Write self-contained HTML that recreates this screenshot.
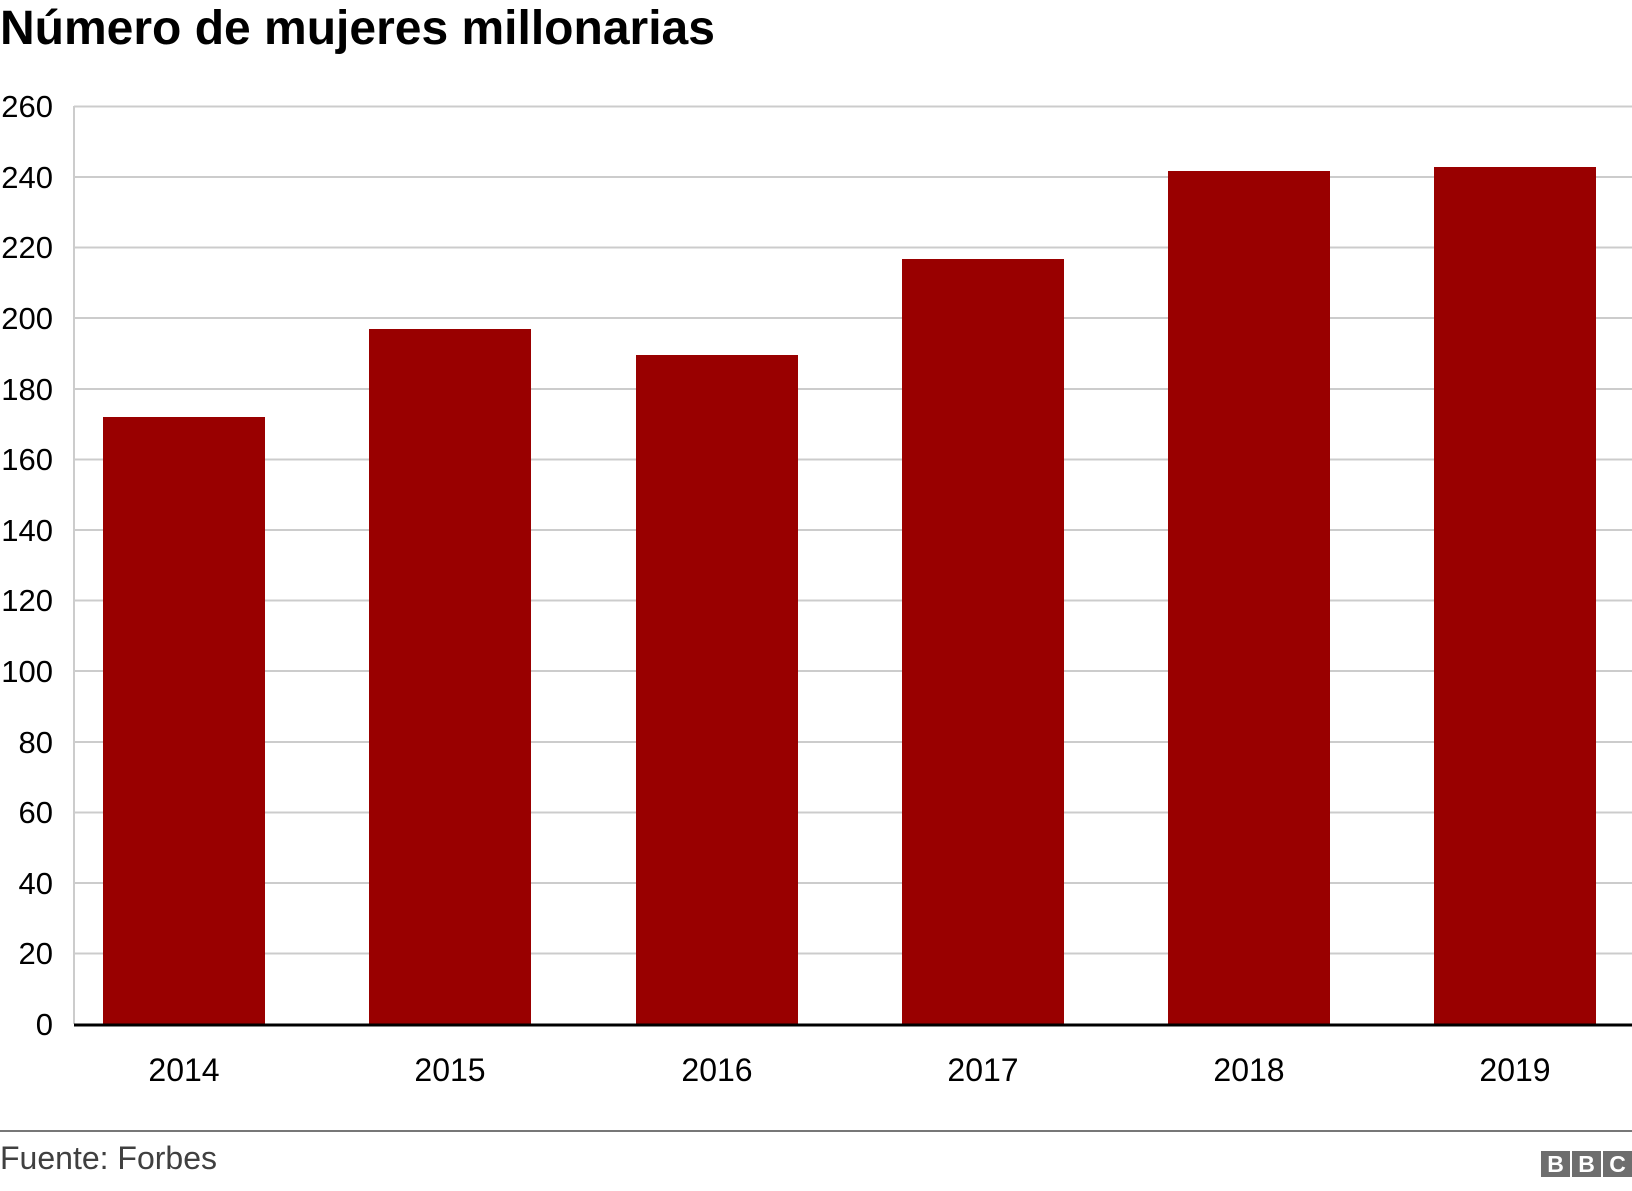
<!DOCTYPE html>
<html><head><meta charset="utf-8"><style>
html,body{margin:0;padding:0;background:#fff;}
body{width:1632px;height:1186px;overflow:hidden;}
</style></head><body>
<svg width="1632" height="1186" xmlns="http://www.w3.org/2000/svg" font-family="Liberation Sans, Arial, sans-serif">
<text x="0" y="44" font-size="48" font-weight="bold" fill="#000">Número de mujeres millonarias</text>
<g stroke="#cccccc" stroke-width="2">
<line x1="74" y1="106.5" x2="1632" y2="106.5"/>
<line x1="74" y1="177" x2="1632" y2="177"/>
<line x1="74" y1="247.5" x2="1632" y2="247.5"/>
<line x1="74" y1="318" x2="1632" y2="318"/>
<line x1="74" y1="389" x2="1632" y2="389"/>
<line x1="74" y1="459.5" x2="1632" y2="459.5"/>
<line x1="74" y1="530" x2="1632" y2="530"/>
<line x1="74" y1="600.5" x2="1632" y2="600.5"/>
<line x1="74" y1="671" x2="1632" y2="671"/>
<line x1="74" y1="742" x2="1632" y2="742"/>
<line x1="74" y1="812.5" x2="1632" y2="812.5"/>
<line x1="74" y1="883" x2="1632" y2="883"/>
<line x1="74" y1="953.5" x2="1632" y2="953.5"/>
<line x1="74" y1="106" x2="74" y2="1024"/>
</g>
<g font-size="31" fill="#000" text-anchor="end">
<text x="53" y="117">260</text><text x="53" y="188">240</text><text x="53" y="258">220</text>
<text x="53" y="329">200</text><text x="53" y="400">180</text><text x="53" y="470">160</text>
<text x="53" y="541">140</text><text x="53" y="611">120</text><text x="53" y="682">100</text>
<text x="53" y="753">80</text><text x="53" y="823">60</text><text x="53" y="894">40</text>
<text x="53" y="964">20</text><text x="53" y="1035">0</text>
</g>
<g fill="#990000">
<rect x="103" y="417" width="162" height="607"/>
<rect x="369" y="329" width="162" height="695"/>
<rect x="636" y="355" width="162" height="669"/>
<rect x="902" y="259" width="162" height="765"/>
<rect x="1168" y="171" width="162" height="853"/>
<rect x="1434" y="167" width="162" height="857"/>
</g>
<line x1="74" y1="1025" x2="1632" y2="1025" stroke="#000" stroke-width="3"/>
<g font-size="32" fill="#000" text-anchor="middle">
<text x="184" y="1081">2014</text><text x="450" y="1081">2015</text><text x="717" y="1081">2016</text>
<text x="983" y="1081">2017</text><text x="1249" y="1081">2018</text><text x="1515" y="1081">2019</text>
</g>
<line x1="0" y1="1131" x2="1632" y2="1131" stroke="#777" stroke-width="2"/>
<text x="0" y="1169" font-size="32" fill="#404040">Fuente: Forbes</text>
<g fill="#6e6e6e">
<rect x="1541" y="1151" width="29" height="26"/>
<rect x="1572" y="1151" width="29" height="26"/>
<rect x="1603" y="1151" width="29" height="26"/>
</g>
<g font-size="23" font-weight="bold" fill="#fff" text-anchor="middle">
<text x="1555.5" y="1172">B</text><text x="1586.5" y="1172">B</text><text x="1617.5" y="1172">C</text>
</g>
</svg>
</body></html>
